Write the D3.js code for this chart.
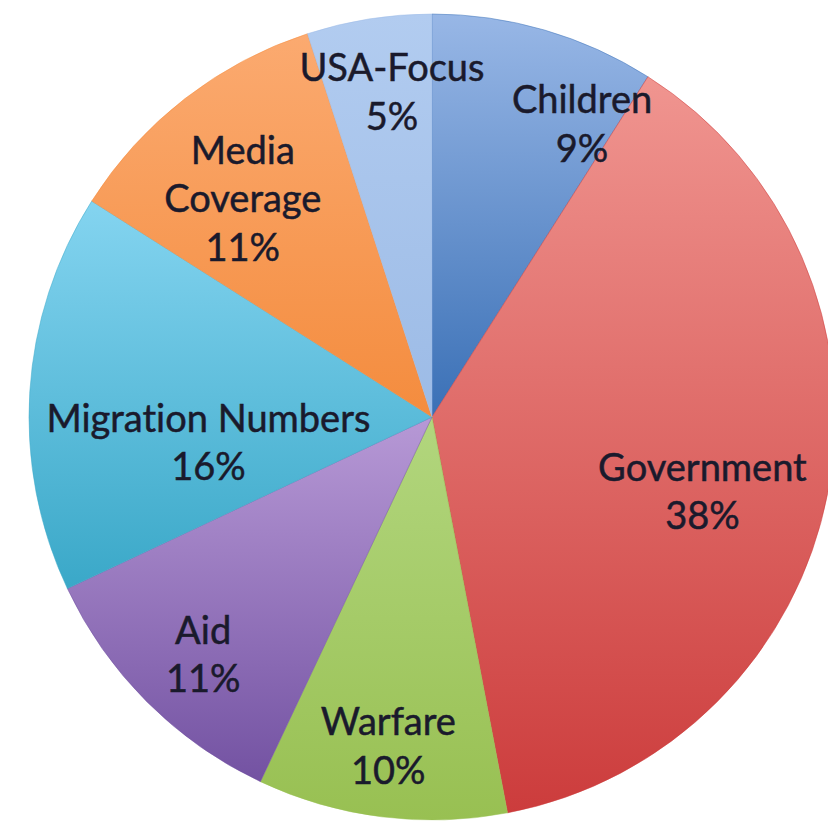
<!DOCTYPE html>
<html>
<head>
<meta charset="utf-8">
<script src="https://cdn.jsdelivr.net/npm/d3@7"></script>
<style>
  html, body { margin: 0; padding: 0; background: #fff; }
  svg { display: block; }
  text { font-family: Lato, "Open Sans", sans-serif; font-variant-ligatures: none; }
</style>
</head>
<body>
<svg id="chart" width="828" height="829"></svg>
<script>
// Share of coverage by topic (percent)
const categories = ["Children", "Government", "Warfare", "Aid", "Migration Numbers", "Media Coverage", "USA-Focus"];
const values = [9, 38, 10, 11, 16, 11, 5];
// Label lines as printed inside each slice
const labelLines = [
  ["Children", "9%"],
  ["Government", "38%"],
  ["Warfare", "10%"],
  ["Aid", "11%"],
  ["Migration Numbers", "16%"],
  ["Media", "Coverage", "11%"],
  ["USA-Focus", "5%"]
];

// Slice fills: gradient from lighter top to darker bottom
const fillTop    = ["#98b7e6", "#f09590", "#b2d67e", "#b799d6", "#84d4f0", "#fbaa70", "#b2ccf0"];
const fillBottom = ["#3a70b6", "#cc3c3c", "#98c052", "#7352a2", "#3aa8c8", "#f48c3e", "#9cbbe6"];

// Label placement: angle shift (degrees) from slice middle and radius fraction
const labelShift  = [10.8, 4.3, 0.4, -0.9, -9.7, -2.9, 2.0];
const labelRadius = [0.82, 0.695, 0.82, 0.816, 0.558, 0.72, 0.816];

const W = 828, H = 829;
const cx = 432, cy = 417, R = 403;
const lineGap = 48.5;

const svg = d3.select("#chart");
svg.append("rect").attr("width", W).attr("height", H).attr("fill", "#fff");

const defs = svg.append("defs");
categories.forEach((c, i) => {
  const g = defs.append("linearGradient")
    .attr("id", "grad" + i)
    .attr("x1", 0).attr("y1", 0).attr("x2", 0).attr("y2", 1);
  g.append("stop").attr("offset", "0%").attr("stop-color", fillTop[i]);
  g.append("stop").attr("offset", "100%").attr("stop-color", fillBottom[i]);
});

const data = categories.map((c, i) => ({ name: c, value: values[i], i }));
const pie = d3.pie().value(d => d.value).sort(null);
const arc = d3.arc().innerRadius(0).outerRadius(R);
const arcs = pie(data);

const g = svg.append("g").attr("transform", `translate(${cx},${cy})`);

g.selectAll("path.slice")
  .data(arcs)
  .join("path")
  .attr("class", "slice")
  .attr("d", arc)
  .attr("fill", d => `url(#grad${d.data.i})`)
  .attr("stroke", d => fillBottom[d.data.i])
  .attr("stroke-width", 0.5);

const labels = g.selectAll("text.lbl")
  .data(arcs)
  .join("text")
  .attr("class", "lbl")
  .attr("text-anchor", "middle")
  .attr("font-size", 38)
  .attr("fill", "#1a1a2c")
  .attr("stroke", "#1a1a2c")
  .attr("stroke-width", 0.5)
  .attr("transform", d => {
    const i = d.data.i;
    const mid = (d.startAngle + d.endAngle) / 2 + labelShift[i] * Math.PI / 180;
    const r = R * labelRadius[i];
    return `translate(${r * Math.sin(mid)},${-r * Math.cos(mid)})`;
  });

labels.each(function(d) {
  const lines = labelLines[d.data.i];
  const n = lines.length;
  d3.select(this).selectAll("tspan")
    .data(lines)
    .join("tspan")
    .attr("x", 0)
    .attr("y", (t, k) => (k - (n - 1) / 2) * lineGap)
    .attr("dominant-baseline", "central")
    .text(t => t);
});
</script>
</body>
</html>
